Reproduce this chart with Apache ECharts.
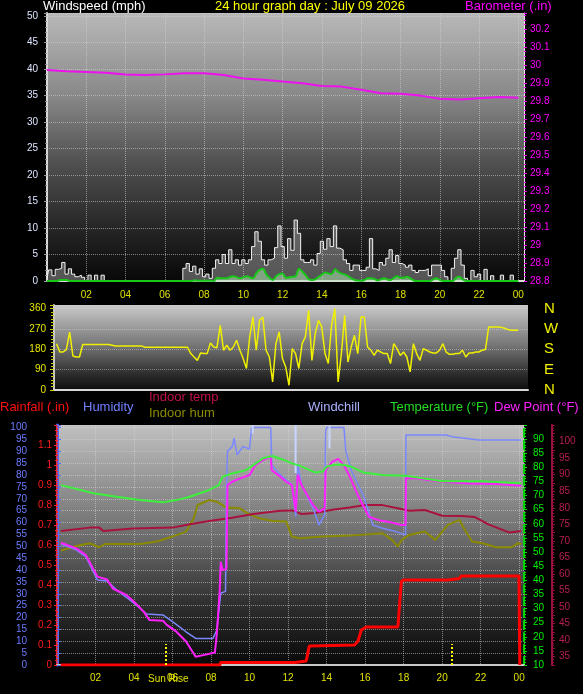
<!DOCTYPE html>
<html>
<head>
<meta charset="utf-8">
<script src="https://cdn.jsdelivr.net/npm/echarts@6.0.0/dist/echarts.min.js"></script>
<style>
html, body { margin: 0; padding: 0; background: #000; }
#chart { width: 583px; height: 694px; }
</style>
</head>
<body>
<div id="chart"></div>
<script>
// wind samples every 10 minutes, starting at 00:00
const STEP = 1 / 6;
const windGust = [
	0.5, 2.1, 1.0, 2.2, 2.4, 3.5, 1.3, 2.3, 1.3, 0.8, 1.1, 0.7, 0, 1.1, 0, 1.1, 0, 1.1, 0,
	0, 0, 0, 0, 0, 0, 0, 0, 0, 0, 0, 0, 0, 0, 0, 0, 0, 0, 0, 0, 0, 0, 0,
	2.4, 3.3, 1.8, 2.8, 1.3, 2.3, 0.8, 1.3, 0.5, 2.4,
	4.0, 3.3, 5.0, 3.3, 5.9, 3.3, 4.0, 3.0, 4.0, 3.3,
	4.0, 6.5, 9.3, 7.5, 4.0, 3.0, 4.0, 4.3, 6.3, 10.4,
	6.5, 4.3, 8.0, 5.8, 11.5, 9.0, 4.0, 3.5, 3.5, 4.0,
	3.0, 5.2, 7.5, 6.0, 8.0, 6.5, 10.4, 6.2, 5.9, 4.0,
	3.3, 2.0, 3.0, 3.0, 2.0, 2.0, 2.6, 8.0, 2.3, 2.0,
	3.5, 3.0, 4.3, 5.9, 3.5, 4.8, 3.3, 3.0, 2.6, 3.0,
	2.0, 1.6, 2.0, 2.0, 2.3, 1.0, 3.0, 3.0, 3.0, 2.0,
	0.8, 0, 2.4, 4.3, 5.9, 3.0, 0.5, 0, 2.0, 0.8,
	1.3, 0, 2.2, 0, 1.0, 0, 0, 1.1, 0, 0, 1.1, 0, 0
];
const windAvg = [
	0, 0, 0, 0, 0.2, 0.2, 0.2,
	0, 0, 0, 0, 0, 0, 0, 0, 0, 0, 0, 0, 0, 0, 0, 0, 0, 0, 0,
	0, 0, 0, 0, 0, 0, 0, 0, 0, 0, 0, 0, 0, 0, 0, 0, 0, 0, 0,
	0.1, 0.05, 0.05, 0.05, 0.05, 0.05, 0,
	0.6, 0.5, 0.5, 0.5, 0.8, 0.9, 0.7, 0.5, 0.7, 0.9,
	0.7, 0.5, 1.5, 2.1, 2.3, 1.2, 0.6, 0.2, 0.9, 1.3,
	1.4, 0.6, 0.7, 0.8, 0.9, 2.3, 1.8, 1.1, 0.3, 0.2,
	0.3, 0.8, 1.2, 1.6, 1.4, 1.3, 2.2, 1.7, 1.4, 1.2,
	0.9, 0.5, 0.2, 0.1, 0.05, 0.2, 0.5, 0.5, 0.4, 0.1,
	0.3, 0.5, 0.3, 0.2, 0.6, 0.9, 0.6, 0.6, 0.8, 0.5,
	0.1, 0, 0, 0, 0, 0, 0.3, 0.5, 0.2, 0,
	0, 0, 0, 0.6, 0.8, 0.3,
	0, 0, 0, 0, 0, 0, 0, 0, 0, 0, 0, 0, 0, 0, 0, 0, 0
];
// direction samples on the same 10 minute grid, from sample 3
const windDirFirst = 3;
const windDir = [
	205, 168, 168, 179, 256, 150, 146, 146, 201,
	201, 201, 201, 201, 201, 201, 201, 201, 198,
	195, 195, 195, 195, 195, 195, 195, 195, 195,
	189, 189, 189, 189, 189, 189, 189, 189, 189, 189, 189, 189, 189, 189,
	161, 146, 131, 164, 161, 161, 208, 190, 187, 286,
	176, 198, 176, 190, 220, 176, 139, 95, 235, 323,
	176, 308, 323, 176, 146, 36, 205, 257, 139, 102,
	21, 183, 161, 95, 205, 235, 352, 131, 249, 308,
	279, 161, 117, 286, 360, 36, 161, 330, 124, 190,
	242, 161, 323, 323, 190, 176, 153, 176, 168, 161,
	161, 117, 205, 183, 153, 168, 146, 80, 205, 161,
	131, 183, 176, 168, 164, 164, 176, 205, 168, 158,
	158, 161, 161, 176, 146, 164, 164, 168, 168, 176,
	179, 279, 279, 279, 279, 277, 272, 267, 264, 264, 264
];
// hourly barometer
const barometer = [
	29.972, 29.965, 29.961, 29.957, 29.947, 29.944, 29.948, 29.954, 29.954, 29.945,
	29.925, 29.918, 29.908, 29.899, 29.884, 29.880, 29.862, 29.843, 29.840, 29.830,
	29.812, 29.808, 29.815, 29.822, 29.818
];

// [hour, value]
const temperature = [[0.2,73.7],[1.9,70.8],[3.1,69.6],[4.3,68.4],[5.5,67.6],[6.2,68.4],[6.9,69.6],[7.9,72.0],[8.4,73.7],[8.6,76.7],[9.1,77.8],[9.8,79.0],[10.2,80.8],[10.7,83.2],[11.2,84.0],[11.7,82.8],[12.2,81.4],[12.6,80.6],[13.4,78.2],[13.8,78.5],[14.0,80.2],[14.3,80.8],[14.8,81.0],[15.3,80.2],[15.9,78.2],[16.9,77.3],[18.1,77.0],[19.0,76.1],[20.0,75.1],[22.1,75.1],[24.1,74.4]];
const dewPoint = [[0.2,53.3],[1.0,51.3],[1.5,48.9],[2.1,41.3],[2.6,40.3],[2.9,37.1],[3.6,34.8],[4.0,32.4],[4.5,28.9],[4.8,25.9],[5.5,25.7],[5.7,24.2],[6.2,21.8],[6.7,18.3],[7.2,12.9],[7.6,13.5],[8.2,14.4],[8.3,21.2],[8.45,36.5],[8.5,46.6],[8.6,43.6],[8.8,44.0],[8.85,73.7],[9.1,74.9],[9.5,76.1],[10.0,77.3],[10.3,80.8],[10.7,82.6],[11.1,83.7],[11.15,79.0],[11.6,76.7],[11.9,74.9],[12.2,73.7],[12.4,64.3],[12.5,77.3],[12.7,73.7],[13.3,66.6],[13.6,64.3],[13.9,65.5],[13.95,79.0],[14.3,82.0],[14.6,83.0],[14.9,80.8],[15.2,76.7],[15.7,69.0],[16.2,62.5],[16.7,61.3],[17.2,60.7],[17.9,59.6],[18.1,59.6],[18.12,76.1],[18.6,76.1],[20.0,74.9],[21.4,74.3],[22.8,74.1],[24.1,73.5]];
const humidity = [[0.2,51],[1.0,48.5],[1.5,45.6],[2.1,35.8],[2.6,35.4],[3.1,31.6],[4.0,26],[4.65,21.5],[5.5,21.1],[6.0,18.3],[6.7,14.0],[7.2,11.2],[8.1,11.2],[8.3,14.7],[8.5,30.2],[8.75,31],[8.8,74.5],[8.85,90],[9.1,92],[9.2,95.5],[9.35,88.5],[9.65,92],[10.0,91],[10.1,99.7],[10.25,100],[11.1,100],[11.15,84.3],[11.6,80],[11.9,78],[12.2,75.9],[12.4,62.5],[12.5,84.3],[12.7,75.9],[13.3,66],[13.6,59],[13.9,63.2],[13.95,98.3],[14.0,100],[14.9,100],[15.0,90],[15.3,81.5],[15.9,71.6],[16.4,59],[16.9,57.6],[17.6,56.2],[18.1,54.8],[18.12,96.9],[18.3,96.9],[20.2,96.9],[20.5,96.2],[21.9,94.8],[24.1,94.8]];
const windchill = [[10.16,95],[10.16,92.0],[10.2,'-'],[12.39,95],[12.39,78.0],[12.45,'-'],[14.15,95],[14.15,86.7]];
const indoorTemp = [[0.2,73.0],[1.7,74.0],[2.2,74.0],[2.4,73.0],[3.95,73.7],[6.0,74.0],[6.9,75.0],[7.9,76.0],[9.1,77.0],[10.2,78.1],[11.6,79.1],[12.2,79.2],[12.7,78.1],[13.4,78.4],[14.3,79.4],[15.2,80.1],[16.0,80.8],[16.9,80.8],[17.75,79.8],[18.3,79.1],[19.1,79.3],[20.0,77.6],[21.0,77.5],[21.7,77.2],[22.4,75.0],[23.5,72.5],[24.1,73.0]];
const indoorHum = [[0.2,48.2],[1.0,50.1],[1.7,51.3],[2.2,49.6],[2.5,51],[3.1,51],[4.3,51],[5.2,52],[6.0,54.1],[6.7,56.2],[7.1,61.8],[7.3,67.4],[7.9,69.5],[8.3,68.8],[8.8,66.3],[9.5,66.0],[9.9,63.9],[10.5,61.8],[11.2,60.7],[11.9,60.4],[12.1,56.2],[12.2,54.1],[12.6,53.4],[13.8,54.1],[15.2,54.5],[16.9,55.5],[17.4,52.7],[17.7,49.9],[17.9,52.7],[18.3,54.8],[19.1,56.2],[19.65,52.7],[20.3,59],[20.9,61.1],[21.1,58.0],[21.55,52],[22.1,51.3],[22.8,49.6],[23.6,49.6],[23.95,51.3],[24.1,51.0]];
const rainfall = [[0.2,0],[8.45,0],[8.5,0.012],[12.35,0.012],[12.42,0.02],[12.94,0.02],[13.1,0.095],[13.2,0.1],[15.45,0.1],[15.63,0.12],[15.8,0.175],[16.06,0.19],[17.7,0.19],[17.88,0.417],[18.0,0.425],[20.3,0.425],[20.39,0.433],[20.9,0.433],[21.0,0.445],[23.99,0.445],[24.03,0]];
const sunRise = 5.65;
const sunSet = 20.5;
const compass = { 0: "N", 90: "E", 180: "S", 270: "W", 360: "N" };

const FONT = '"Liberation Sans", Arial, sans-serif';

function hourLabel(v) {
	if (v % 2 !== 0) return "";
	const h = v % 24;
	return (h < 10 ? "0" : "") + h;
}

function bg(stops) {
	return new echarts.graphic.LinearGradient(0, 0, 0, 1, stops.map((c, i) => ({ offset: c[0], color: c[1] })));
}

const dotted = { show: true, lineStyle: { color: "rgba(215,215,215,0.55)", type: "dotted", width: 1 } };

function title(text, left, top, color, size) {
	return { type: "text", left: left, top: top, style: { text: text, fill: color, font: (size || 13) + "px " + FONT } };
}

const chart = echarts.init(document.getElementById("chart"));

chart.setOption({
	backgroundColor: "#000",
	animation: false,
	grid: [
		{ left: 47, right: 59, top: 13, height: 268, show: true, borderWidth: 0,
			backgroundColor: bg([[0, "#b8b8b8"], [0.3, "#8a8a8a"], [0.55, "#525252"], [0.8, "#262626"], [1, "#080808"]]) },
		{ left: 54, right: 55, top: 305, height: 85, show: true, borderWidth: 0,
			backgroundColor: bg([[0, "#cacaca"], [0.5, "#707070"], [0.8, "#303030"], [1, "#0c0c0c"]]) },
		{ left: 57, right: 59, top: 425, height: 240, show: true, borderWidth: 0,
			backgroundColor: bg([[0, "#c0c0c0"], [0.48, "#6a6a6a"], [0.75, "#2e2e2e"], [1, "#080808"]]) }
	],
	xAxis: [
		{ type: "value", gridIndex: 0, min: 0, max: 24.29, interval: 2,
			axisLine: { lineStyle: { color: "#d8d8d8", width: 2 } }, axisTick: { show: false },
			axisLabel: { formatter: hourLabel, color: "#e0e000", fontSize: 10, fontFamily: FONT, margin: 9, showMinLabel: false, showMaxLabel: false },
			splitLine: dotted },
		{ type: "value", gridIndex: 1, min: 0.37, max: 24.5,
			axisLine: { lineStyle: { color: "#d8d8d8", width: 2 } }, axisTick: { show: false },
			axisLabel: { show: false }, splitLine: { show: false } },
		{ type: "value", gridIndex: 2, min: 0, max: 24.25, interval: 2,
			axisLine: { lineStyle: { color: "#c8c8c8", width: 2 } }, axisTick: { show: false },
			axisLabel: { formatter: hourLabel, color: "#e0e000", fontSize: 10, fontFamily: FONT, margin: 8, showMinLabel: false, showMaxLabel: false },
			splitLine: dotted }
	],
	yAxis: [
		// 0 windspeed
		{ type: "value", gridIndex: 0, position: "left", min: 0, max: 50.6, interval: 5,
			axisLine: { show: true, lineStyle: { color: "#d8d8d8", width: 2 } },
			axisTick: { show: true, length: 3, lineStyle: { color: "#9a9a9a" } },
			minorTick: { show: true, splitNumber: 5, length: 2, lineStyle: { color: "#8a8a8a" } },
			axisLabel: { color: "#dde4ff", fontSize: 10, fontFamily: FONT, margin: 9, showMaxLabel: false },
			splitLine: dotted },
		// 1 barometer
		{ type: "value", gridIndex: 0, position: "right", min: 28.8, max: 30.289, interval: 0.1,
			axisLine: { show: true, lineStyle: { color: "#e8e8e8", width: 1 } },
			axisTick: { show: true, length: 3, lineStyle: { color: "#ff00ff" } },
			minorTick: { show: true, splitNumber: 4, length: 2, lineStyle: { color: "#ff00ff" } },
			axisLabel: { color: "#ff00ff", fontSize: 10, fontFamily: FONT, margin: 6, showMaxLabel: false },
			splitLine: { show: false } },
		// 2 wind direction
		{ type: "value", gridIndex: 1, position: "left", min: 0, max: 376, interval: 90,
			axisLine: { show: true, lineStyle: { color: "#c8c8c8", width: 2 } },
			axisTick: { show: true, length: 4, lineStyle: { color: "#d0d000" } },
			minorTick: { show: true, splitNumber: 6, length: 3, lineStyle: { color: "#c8c800" } },
			axisLabel: { color: "#e8e800", fontSize: 10, fontFamily: FONT, margin: 8, showMaxLabel: false },
			splitLine: { show: true, lineStyle: { color: "rgba(220,220,220,0.45)", type: "dotted" } } },
		// 3 compass letters
		{ type: "value", gridIndex: 1, position: "right", min: 0, max: 376, interval: 90,
			axisLine: { show: false }, axisTick: { show: false }, splitLine: { show: false },
			axisLabel: { formatter: v => compass[v] || "", color: "#f0f000", fontSize: 15, fontFamily: FONT, margin: 16, showMaxLabel: false } },
		// 4 humidity
		{ type: "value", gridIndex: 2, position: "left", offset: 26, min: 0, max: 101.1, interval: 5,
			axisLine: { show: true, lineStyle: { color: "#5a6af0", width: 3 } },
			axisTick: { show: true, inside: true, length: 4, lineStyle: { color: "#5a6af0" } },
			minorTick: { show: true, splitNumber: 5, length: 2, lineStyle: { color: "#5a6af0" } },
			axisLabel: { color: "#6b7bff", fontSize: 10, fontFamily: FONT, margin: 4, showMaxLabel: false },
			splitLine: dotted },
		// 5 rainfall
		{ type: "value", gridIndex: 2, position: "left", min: 0, max: 1.2, interval: 0.1,
			axisLine: { show: true, lineStyle: { color: "#ff2020", width: 2, type: "dotted" } },
			axisTick: { show: true, length: 3, lineStyle: { color: "#ff2020" } },
			minorTick: { show: true, splitNumber: 4, length: 2, lineStyle: { color: "#ff2020" } },
			axisLabel: { color: "#ff1a1a", fontSize: 10, fontFamily: FONT, margin: 5, showMaxLabel: false },
			splitLine: { show: false } },
		// 6 temperature
		{ type: "value", gridIndex: 2, position: "right", min: 10, max: 95, interval: 5,
			axisLine: { show: true, lineStyle: { color: "#00d000", width: 2, type: "dashed" } },
			axisTick: { show: true, length: 3, lineStyle: { color: "#00e000" } },
			minorTick: { show: true, splitNumber: 5, length: 2, lineStyle: { color: "#00e000" } },
			axisLabel: { color: "#00f000", fontSize: 10, fontFamily: FONT, margin: 9, showMaxLabel: false },
			splitLine: { show: false } },
		// 7 indoor temp
		{ type: "value", gridIndex: 2, position: "right", offset: 28, min: 32.5, max: 105, interval: 2.5,
			axisLine: { show: true, lineStyle: { color: "#9a1040", width: 2 } },
			axisTick: { show: true, length: 3, lineStyle: { color: "#9a1040" } },
			minorTick: { show: true, splitNumber: 3, length: 2, lineStyle: { color: "#9a1040" } },
			axisLabel: { formatter: v => (v % 5 === 0 ? String(v) : ""), color: "#b81e52", fontSize: 10, fontFamily: FONT, margin: 7, showMaxLabel: false },
			splitLine: { show: false } }
	],
	graphic: [
		title("Windspeed (mph)", 43, 0, "#ffffff"),
		title("24 hour graph day : July 09 2026", 215, 0, "#ffff00"),
		title("Barometer (.in)", 465, 0, "#ff00ff"),
		title("Rainfall (.in)", 0, 401, "#ff1010"),
		title("Humidity", 83, 401, "#7080ff"),
		title("Indoor temp", 149, 391, "#c0104c"),
		title("Indoor hum", 149, 407, "#8c8c00"),
		title("Windchill", 308, 401, "#aab2ff"),
		title("Temperature (°F)", 390, 401, "#22dd22"),
		title("Dew Point (°F)", 494, 401, "#ff22ff"),
		title("Sun Rise", 148, 674, "#e0e000", 10)
	],
	series: [
		{ name: "Gust", type: "line", xAxisIndex: 0, yAxisIndex: 0, step: "middle", symbol: "none",
			data: windGust.map((v, i) => [i * STEP, v]),
			lineStyle: { color: "#f2f2f2", width: 1 }, areaStyle: { color: "rgba(225,225,225,0.5)" } },
		{ name: "Wind", type: "line", xAxisIndex: 0, yAxisIndex: 0, smooth: 0.3, symbol: "none",
			data: windAvg.map((v, i) => [i * STEP, v]),
			lineStyle: { color: "#18c818", width: 2 }, areaStyle: { color: "rgba(175,235,175,0.75)" } },
		{ name: "Barometer", type: "line", xAxisIndex: 0, yAxisIndex: 1, symbol: "none",
			data: barometer.map((v, i) => [i, v]),
			lineStyle: { color: "#ee10ee", width: 2 } },
		{ name: "Direction", type: "line", xAxisIndex: 1, yAxisIndex: 2, symbol: "none",
			data: windDir.map((v, i) => [(i + windDirFirst) * STEP, v]),
			lineStyle: { color: "#f0f000", width: 1.5 } },
		{ name: "Indoor hum", type: "line", xAxisIndex: 2, yAxisIndex: 4, symbol: "none", data: indoorHum,
			lineStyle: { color: "#8a8a00", width: 2 } },
		{ name: "Indoor temp", type: "line", xAxisIndex: 2, yAxisIndex: 7, symbol: "none", data: indoorTemp,
			lineStyle: { color: "#a8123e", width: 2 } },
		{ name: "Humidity", type: "line", xAxisIndex: 2, yAxisIndex: 4, symbol: "none", data: humidity,
			lineStyle: { color: "#7a88ff", width: 1.5 } },
		{ name: "Windchill", type: "line", xAxisIndex: 2, yAxisIndex: 6, symbol: "none", data: windchill,
			connectNulls: false, lineStyle: { color: "#c8d6ff", width: 2 } },
		{ name: "Dew Point", type: "line", xAxisIndex: 2, yAxisIndex: 6, symbol: "none", data: dewPoint,
			lineStyle: { color: "#ff20ff", width: 2 } },
		{ name: "Temperature", type: "line", xAxisIndex: 2, yAxisIndex: 6, symbol: "none", data: temperature,
			lineStyle: { color: "#3cf03c", width: 2 } },
		{ name: "Rainfall", type: "line", xAxisIndex: 2, yAxisIndex: 5, symbol: "none", data: rainfall,
			lineStyle: { color: "#ff0000", width: 3 },
			markLine: { silent: true, symbol: ["none", "none"], label: { show: false },
				lineStyle: { color: "#ffff00", type: "dotted", width: 2 },
				data: [
					[{ coord: [sunRise, 0] }, { coord: [sunRise, 0.105] }],
					[{ coord: [sunSet, 0] }, { coord: [sunSet, 0.105] }]
				] } }
	]
});
</script>
</body>
</html>
